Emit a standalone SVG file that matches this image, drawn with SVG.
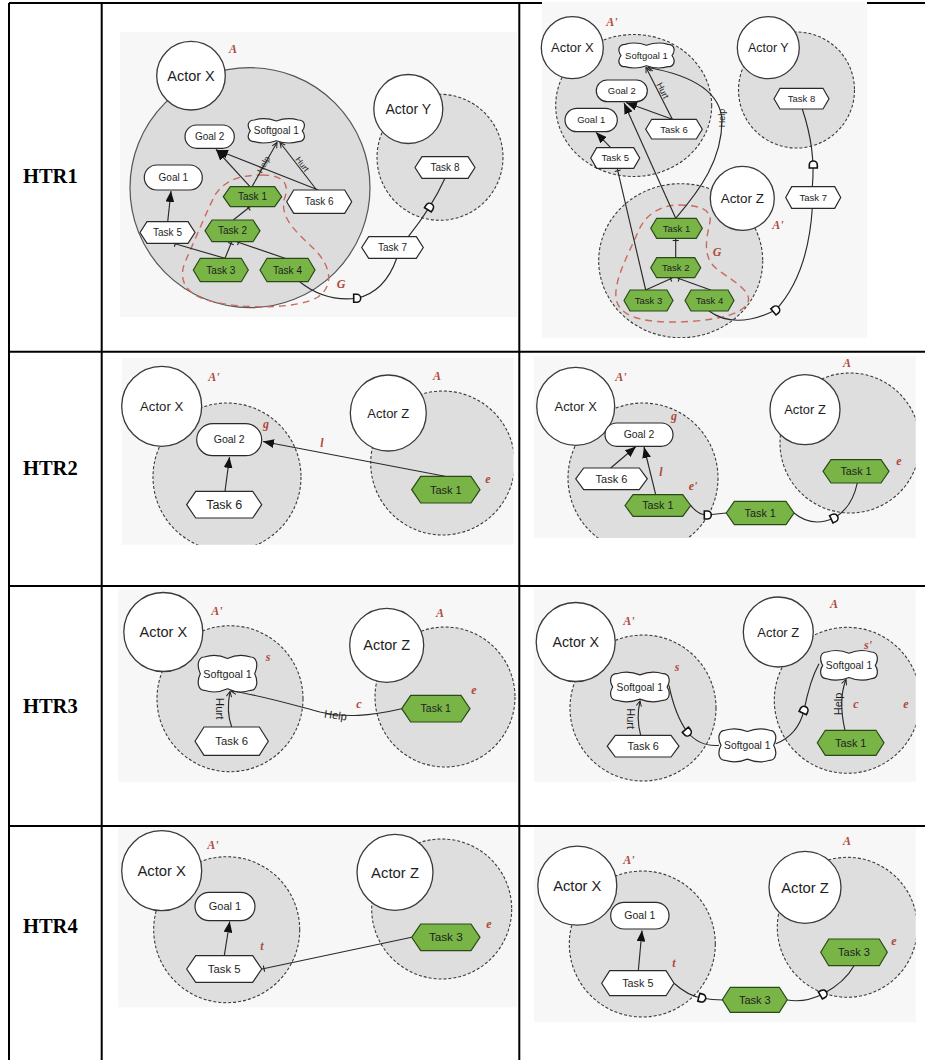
<svg xmlns="http://www.w3.org/2000/svg" xmlns:xlink="http://www.w3.org/1999/xlink" width="925" height="1060" viewBox="0 0 925 1060">
<style>
.bg{fill:#f7f7f7}
.bd{fill:#dedede;stroke:#3a3a3a;stroke-width:1.1;stroke-dasharray:3 2}
.bs{fill:#dcdcdc;stroke:#555;stroke-width:1.2}
.ac{fill:#fff;stroke:#3a3a3a;stroke-width:1.3}
.nw{fill:#fff;stroke:#2a2a2a;stroke-width:1.2}
.ng{fill:#78b446;stroke:#2b4a17;stroke-width:1.2}
.ln{fill:none;stroke:#2a2a2a;stroke-width:1.15}
.gb{fill:none;stroke:#c96a5e;stroke-width:1.4;stroke-dasharray:7 5}
.t{font-family:"Liberation Sans",Arial,sans-serif;fill:#1e1e1e;text-anchor:middle}
.r{font-family:"Liberation Serif","Times New Roman",serif;font-style:italic;font-weight:bold;fill:#b04a3c;font-size:12px;text-anchor:middle}
.h{font-family:"Liberation Serif","Times New Roman",serif;font-weight:bold;font-size:20.5px;fill:#000}
.tb{stroke:#000;stroke-width:2;fill:none}
.dp{fill:#fff;stroke:#111;stroke-width:1.6}
</style>
<defs>
<marker id="ah" viewBox="0 0 10 8" refX="10" refY="4" markerWidth="11" markerHeight="8.8" markerUnits="userSpaceOnUse" orient="auto"><path d="M0,0 L10,4 L0,8 z" fill="#111"/></marker>
<marker id="oa" viewBox="0 0 8 8" refX="7" refY="4" markerWidth="7" markerHeight="7" markerUnits="userSpaceOnUse" orient="auto"><path d="M1,1 L7,4 L1,7" fill="none" stroke="#222" stroke-width="1.1"/></marker>
<marker id="tk" viewBox="0 0 8 8" refX="6" refY="4" markerWidth="8" markerHeight="8" markerUnits="userSpaceOnUse" orient="auto"><path d="M4,1 L4,7" fill="none" stroke="#222" stroke-width="1.1"/></marker>
<path id="dsym" d="M-3,-4 L0,-4 A4,4 0 0 1 0,4 L-3,4 Z"/>
<clipPath id="cp2"><rect x="542" y="2" width="325" height="336"/></clipPath>
<clipPath id="cp3"><rect x="121.7" y="358" width="391.6" height="186.7"/></clipPath>
<clipPath id="cp4"><rect x="534" y="356.3" width="381.7" height="181.7"/></clipPath>
<clipPath id="cp6"><rect x="534" y="588.7" width="381.7" height="193.3"/></clipPath>
<clipPath id="cp8"><rect x="534" y="827.3" width="381.7" height="195"/></clipPath>
</defs>
<rect width="925" height="1060" fill="#fff"/>

<g id="table">
<path class="tb" d="M9,3 H925 M9,3 V1060 M101.7,3 V1060 M519.3,3 V1060 M9,351.7 H925 M9,586 H925 M9,826 H925"/>
<text class="h" x="23" y="183">HTR1</text>
<text class="h" x="23" y="475">HTR2</text>
<text class="h" x="23" y="713">HTR3</text>
<text class="h" x="23" y="933">HTR4</text>
</g>

<!-- ===== HTR1 left ===== -->
<g id="c1">
<rect class="bg" x="120" y="32" width="397" height="285"/>
<circle id="c1-bndX" class="bs" cx="250" cy="187.7" r="120"/>
<circle id="c1-bndY" class="bd" cx="440" cy="157.3" r="63"/>
<g id="c1-actorX"><circle class="ac" cx="191" cy="75.7" r="34.3"/><text class="t" x="191" y="80.8" font-size="14.5">Actor X</text></g>
<g id="c1-actorY"><circle class="ac" cx="408.3" cy="109" r="34.5"/><text class="t" x="408.3" y="113.9" font-size="14">Actor Y</text></g>
<path id="c1-G" class="gb" d="M262,175 C285,175 290,185 284,200 C280,220 300,235 315,250 C330,265 335,285 318,297 C300,308 250,310 215,302 C185,296 178,280 185,262 C195,240 205,215 215,195 C225,180 240,175 262,175 Z"/>
<g id="c1-links">
<path class="ln" d="M167.7,221.7 L171,191" marker-end="url(#ah)"/>
<path class="ln" d="M250,186.7 L216,149.5" marker-end="url(#ah)"/>
<path class="ln" d="M318.3,190 L217,150" marker-end="url(#ah)"/>
<path class="ln" d="M252,186.7 L277,142.5" marker-end="url(#oa)"/>
<path class="ln" d="M316.7,190 L280,142.5" marker-end="url(#oa)"/>
<path class="ln" d="M233.3,220 L250,206.7" marker-end="url(#tk)"/>
<path class="ln" d="M225,258.3 L173.3,243.3" marker-end="url(#tk)"/>
<path class="ln" d="M225,258.3 L231.7,241.7" marker-end="url(#tk)"/>
<path class="ln" d="M285,258.3 L236.7,241.7" marker-end="url(#tk)"/>
<path class="ln" d="M300,282 Q325,302 356.7,298.3 Q385,292 396.7,258.3"/>
<path class="ln" d="M408.3,236.7 Q432,207 445,178.3"/>
<use href="#dsym" class="dp" transform="translate(356.7,298.3)"/>
<use href="#dsym" class="dp" transform="translate(429.5,207.2) rotate(-58)"/>
<text class="t" font-size="8.5" transform="translate(266,166) rotate(-61)">Help</text>
<text class="t" font-size="8.5" transform="translate(300,166) rotate(52.6)">Hurt</text>
</g>
<g id="c1-goal2"><rect class="nw" x="185" y="125" width="49.3" height="23.3" rx="11.6"/><text class="t" x="209.7" y="140.2" font-size="10">Goal 2</text></g>
<g id="c1-soft1"><path class="nw" d="M254.3,120 q11,-3 22,1 q11,-4 22,-1 c6,0 8,5.4 4,10.85 c4,5.4 2,10.85 -4,10.85 q-11,3 -22,-1 q-11,4 -22,1 c-6,0 -8,-5.4 -4,-10.85 c-4,-5.4 -2,-10.85 4,-10.85 z"/><text class="t" x="276.3" y="134.3" font-size="10">Softgoal 1</text></g>
<g id="c1-goal1"><rect class="nw" x="144.3" y="165" width="58" height="25" rx="12.5"/><text class="t" x="173.3" y="181" font-size="10">Goal 1</text></g>
<g id="c1-task1"><polygon class="ng" points="223.3,196.7 230.3,186.7 274.7,186.7 281.7,196.7 274.7,206.7 230.3,206.7"/><text class="t" x="252.5" y="200.2" font-size="10">Task 1</text></g>
<g id="c1-task6"><polygon class="nw" points="286.7,201.7 293.7,190 344.7,190 351.7,201.7 344.7,213.3 293.7,213.3"/><text class="t" x="319.2" y="205.2" font-size="10">Task 6</text></g>
<g id="c1-task5"><polygon class="nw" points="140,232.5 147,221.7 188,221.7 195,232.5 188,243.3 147,243.3"/><text class="t" x="167.5" y="236" font-size="10">Task 5</text></g>
<g id="c1-task2"><polygon class="ng" points="205,230.8 212,220 253,220 260,230.8 253,241.7 212,241.7"/><text class="t" x="232.5" y="234.3" font-size="10">Task 2</text></g>
<g id="c1-task3"><polygon class="ng" points="193.3,270 200.3,258.3 241.3,258.3 248.3,270 241.3,281.7 200.3,281.7"/><text class="t" x="220.8" y="273.5" font-size="10">Task 3</text></g>
<g id="c1-task4"><polygon class="ng" points="260,270 267,258.3 308,258.3 315,270 308,281.7 267,281.7"/><text class="t" x="287.5" y="273.5" font-size="10">Task 4</text></g>
<g id="c1-task8"><polygon class="nw" points="415,167.5 422,156.7 468,156.7 475,167.5 468,178.3 422,178.3"/><text class="t" x="445" y="171" font-size="10">Task 8</text></g>
<g id="c1-task7"><polygon class="nw" points="361.7,247.5 368.7,236.7 416.3,236.7 423.3,247.5 416.3,258.3 368.7,258.3"/><text class="t" x="392.5" y="251" font-size="10">Task 7</text></g>
<text class="r" x="233" y="53" font-size="11">A</text>
<text class="r" x="341" y="288">G</text>
</g>

<!-- ===== HTR1 right ===== -->
<g id="c2">
<rect class="bg" x="542" y="2" width="325" height="336"/>
<g clip-path="url(#cp2)">
<ellipse id="c2-bndX" class="bd" cx="633.7" cy="105.5" rx="78" ry="71"/>
<circle id="c2-bndY" class="bd" cx="796.5" cy="90" r="58"/>
<ellipse id="c2-bndZ" class="bd" cx="680.7" cy="260.7" rx="82" ry="77"/>
</g>
<g id="c2-actorX"><circle class="ac" cx="572.3" cy="47.7" r="31"/><text class="t" x="572.3" y="52.2" font-size="13">Actor X</text></g>
<g id="c2-actorY"><circle class="ac" cx="768.3" cy="47.7" r="31"/><text class="t" x="768.3" y="52.1" font-size="12.5">Actor Y</text></g>
<g id="c2-actorZ"><circle class="ac" cx="742.3" cy="198.3" r="32"/><text class="t" x="742.3" y="203" font-size="13.4">Actor Z</text></g>
<path id="c2-G" class="gb" d="M679,205 C700,205 712,210 710,222 C706,240 702,258 718,270 C735,282 752,292 748,302 C742,318 700,322 670,322 C640,322 618,315 616,298 C614,280 628,255 638,232 C645,215 660,205 679,205 Z"/>
<g id="c2-links">
<path class="ln" d="M610.7,147.7 L596,132.3" marker-end="url(#ah)"/>
<path class="ln" d="M672.3,119.3 L626,102.5" marker-end="url(#ah)"/>
<path class="ln" d="M675.7,218.3 L624,103" marker-end="url(#ah)"/>
<path class="ln" d="M672.3,119.3 L646,67.5" marker-end="url(#oa)"/>
<path class="ln" d="M675.7,218.3 C700,190 722,160 722,120 C720,90 690,75 648,67.5" marker-end="url(#oa)"/>
<path class="ln" d="M645.7,290 L617.3,168.8" marker-end="url(#tk)"/>
<path class="ln" d="M675.7,257.7 L675.7,238.5" marker-end="url(#tk)"/>
<path class="ln" d="M645.7,290 L672.3,278" marker-end="url(#tk)"/>
<path class="ln" d="M710.7,290 L677.3,278" marker-end="url(#tk)"/>
<path class="ln" d="M709,311 Q735,330 775.7,310 Q808,275 812.3,208.3"/>
<path class="ln" d="M812.3,186.7 Q816,150 802.3,109"/>
<use href="#dsym" class="dp" transform="translate(775.7,310) rotate(-40)"/>
<use href="#dsym" class="dp" transform="translate(813.3,165) rotate(-90)"/>
<text class="t" font-size="9" transform="translate(660,92) rotate(63)">Hurt</text>
<text class="t" font-size="9" transform="translate(725,118) rotate(-90)">Help</text>
</g>
<g id="c2-soft1"><path class="nw" d="M625,44.3 q10.75,-3 21.5,1 q10.75,-4 21.5,-1 c6,0 8,5.6 4,11.2 c4,5.6 2,11.2 -4,11.2 q-10.75,3 -21.5,-1 q-10.75,4 -21.5,1 c-6,0 -8,-5.6 -4,-11.2 c-4,-5.6 -2,-11.2 4,-11.2 z"/><text class="t" x="646.5" y="58.8" font-size="9.5">Softgoal 1</text></g>
<g id="c2-goal2"><rect class="nw" x="596.3" y="80" width="51" height="21.7" rx="10.8"/><text class="t" x="621.8" y="94.1" font-size="9.5">Goal 2</text></g>
<g id="c2-goal1"><rect class="nw" x="565" y="108.3" width="52.3" height="23.4" rx="11.7"/><text class="t" x="591.2" y="123.3" font-size="9.5">Goal 1</text></g>
<g id="c2-task6"><polygon class="nw" points="645.7,129.2 651.7,119.3 696.3,119.3 702.3,129.2 696.3,139 651.7,139"/><text class="t" x="674" y="132.5" font-size="9.5">Task 6</text></g>
<g id="c2-task5"><polygon class="nw" points="590.7,158 596.7,147.7 633.7,147.7 639.7,158 633.7,168.3 596.7,168.3"/><text class="t" x="615.2" y="161.3" font-size="9.5">Task 5</text></g>
<g id="c2-task8"><polygon class="nw" points="774,98.7 780,88.3 823,88.3 829,98.7 823,109 780,109"/><text class="t" x="801.5" y="102" font-size="9.5">Task 8</text></g>
<g id="c2-task7"><polygon class="nw" points="785.7,197.5 791.7,186.7 834.7,186.7 840.7,197.5 834.7,208.3 791.7,208.3"/><text class="t" x="813.2" y="200.8" font-size="9.5">Task 7</text></g>
<g id="c2-task1"><polygon class="ng" points="650.7,228.3 656.7,218.3 696.3,218.3 702.3,228.3 696.3,238.3 656.7,238.3"/><text class="t" x="676.5" y="231.6" font-size="9.5">Task 1</text></g>
<g id="c2-task2"><polygon class="ng" points="650.7,267.7 656.7,257.7 694.7,257.7 700.7,267.7 694.7,277.7 656.7,277.7"/><text class="t" x="675.7" y="271" font-size="9.5">Task 2</text></g>
<g id="c2-task3"><polygon class="ng" points="624,300.5 630,290 667,290 673,300.5 667,311 630,311"/><text class="t" x="648.5" y="303.8" font-size="9.5">Task 3</text></g>
<g id="c2-task4"><polygon class="ng" points="685,300.5 691,290 728,290 734,300.5 728,311 691,311"/><text class="t" x="709.5" y="303.8" font-size="9.5">Task 4</text></g>
<text class="r" x="612" y="26" font-size="11">A'</text>
<text class="r" x="778" y="229" font-size="11">A'</text>
<text class="r" x="717" y="256">G</text>
</g>

<!-- ===== HTR2 left ===== -->
<g id="c3">
<rect class="bg" x="121.7" y="358" width="391.6" height="186.7"/>
<g clip-path="url(#cp3)">
<circle id="c3-bndX" class="bd" cx="227" cy="477" r="74"/>
<circle id="c3-bndZ" class="bd" cx="442.7" cy="463" r="72"/>
</g>
<g id="c3-actorX"><circle class="ac" cx="161.7" cy="406.3" r="40"/><text class="t" x="161.7" y="410.9" font-size="13.2">Actor X</text></g>
<g id="c3-actorZ"><circle class="ac" cx="388.3" cy="413" r="38"/><text class="t" x="388.3" y="417.5" font-size="13">Actor Z</text></g>
<g id="c3-links">
<path class="ln" d="M225,491.3 L229.5,457" marker-end="url(#ah)"/>
<path class="ln" d="M445,476.3 L263,441.5" marker-end="url(#ah)"/>
</g>
<g id="c3-goal2"><rect class="nw" x="196.7" y="423.7" width="65" height="32" rx="16"/><text class="t" x="229.2" y="443.4" font-size="10.5">Goal 2</text></g>
<g id="c3-task6"><polygon class="nw" points="186.7,504.7 195.7,491.3 252.7,491.3 261.7,504.7 252.7,518 195.7,518"/><text class="t" x="224.2" y="509.1" font-size="12.5">Task 6</text></g>
<g id="c3-task1"><polygon class="ng" points="411.7,489.7 420.7,476.3 471,476.3 480,489.7 471,503 420.7,503"/><text class="t" x="445.8" y="493.5" font-size="11">Task 1</text></g>
<text class="r" x="214" y="381">A'</text>
<text class="r" x="437" y="380">A</text>
<text class="r" x="266" y="428" font-size="11">g</text>
<text class="r" x="322" y="447">l</text>
<text class="r" x="488" y="483" font-size="11">e</text>
</g>

<!-- ===== HTR2 right ===== -->
<g id="c4">
<rect class="bg" x="534" y="356.3" width="381.7" height="181.7"/>
<g clip-path="url(#cp4)">
<circle id="c4-bndX" class="bd" cx="643" cy="478" r="75"/>
<circle id="c4-bndZ" class="bd" cx="850" cy="443" r="70"/>
</g>
<g id="c4-actorX"><circle class="ac" cx="575.7" cy="406.3" r="39"/><text class="t" x="575.7" y="410.8" font-size="12.9">Actor X</text></g>
<g id="c4-actorZ"><circle class="ac" cx="805" cy="409.7" r="35"/><text class="t" x="805" y="414.2" font-size="12.9">Actor Z</text></g>
<g id="c4-links">
<path class="ln" d="M610.7,468 L636,446.5" marker-end="url(#ah)"/>
<path class="ln" d="M655.7,494.7 L644,447" marker-end="url(#ah)"/>
<path class="ln" d="M690.7,505.3 Q698,515 707.3,515 Q716,514 726.3,513"/>
<path class="ln" d="M794,513 Q812,528 834,518 Q852,508 857.3,483"/>
<use href="#dsym" class="dp" transform="translate(707.3,515)"/>
<use href="#dsym" class="dp" transform="translate(834,518) rotate(-25)"/>
</g>
<g id="c4-goal2"><rect class="nw" x="605" y="423" width="68" height="23.3" rx="11.6"/><text class="t" x="639" y="438.3" font-size="10.4">Goal 2</text></g>
<g id="c4-task6"><polygon class="nw" points="575.7,478.8 583.7,468 639.3,468 647.3,478.8 639.3,489.7 583.7,489.7"/><text class="t" x="611.5" y="482.7" font-size="11">Task 6</text></g>
<g id="c4-task1a"><polygon class="ng" points="625,505.5 633,494.7 682.7,494.7 690.7,505.5 682.7,516.3 633,516.3"/><text class="t" x="657.8" y="509.3" font-size="10.8">Task 1</text></g>
<g id="c4-task1b"><polygon class="ng" points="726.3,513 734.3,501.3 786,501.3 794,513 786,524.7 734.3,524.7"/><text class="t" x="760.2" y="516.8" font-size="10.8">Task 1</text></g>
<g id="c4-task1c"><polygon class="ng" points="823,471.3 831,459.7 881,459.7 889,471.3 881,483 831,483"/><text class="t" x="856" y="475.1" font-size="10.8">Task 1</text></g>
<text class="r" x="621" y="381">A'</text>
<text class="r" x="847" y="367">A</text>
<text class="r" x="674" y="420" font-size="11">g</text>
<text class="r" x="661" y="476">l</text>
<text class="r" x="693" y="490" font-size="11">e'</text>
<text class="r" x="899" y="465" font-size="11">e</text>
</g>

<!-- ===== HTR3 left ===== -->
<g id="c5">
<rect class="bg" x="118.3" y="588.7" width="398.4" height="193.3"/>
<circle id="c5-bndX" class="bd" cx="230" cy="698.7" r="73"/>
<circle id="c5-bndZ" class="bd" cx="445" cy="697" r="70"/>
<g id="c5-actorX"><circle class="ac" cx="163.3" cy="632" r="39.5"/><text class="t" x="163.3" y="637.1" font-size="14.5">Actor X</text></g>
<g id="c5-actorZ"><circle class="ac" cx="386.7" cy="645.3" r="37"/><text class="t" x="386.7" y="650.4" font-size="14.5">Actor Z</text></g>
<g id="c5-links">
<path class="ln" d="M231.7,727 Q226,712 230,691.5" marker-end="url(#oa)"/>
<path class="ln" d="M401.7,708.7 C370,716 345,718 320,712 C290,704 260,695 231,691" marker-end="url(#oa)"/>
<text class="t" font-size="11.5" transform="translate(216,708.7) rotate(90)">Hurt</text>
<text class="t" font-size="11" transform="translate(335,719) rotate(8)">Help</text>
</g>
<g id="c5-soft1"><path class="nw" d="M204.3,657 q11.6,-4 23.2,1.5 q11.6,-5.5 23.2,-1.5 c6,0 8,8.3 4,16.65 c4,8.3 2,16.65 -4,16.65 q-11.6,4 -23.2,-1.5 q-11.6,5.5 -23.2,1.5 c-6,0 -8,-8.3 -4,-16.65 c-4,-8.3 -2,-16.65 4,-16.65 z"/><text class="t" x="227.5" y="677.5" font-size="10.8">Softgoal 1</text></g>
<g id="c5-task6"><polygon class="nw" points="195,741.2 204,727 259.3,727 268.3,741.2 259.3,755.3 204,755.3"/><text class="t" x="231.7" y="745.2" font-size="11.3">Task 6</text></g>
<g id="c5-task1"><polygon class="ng" points="401.7,708.7 410.7,695.3 461,695.3 470,708.7 461,722 410.7,722"/><text class="t" x="435.8" y="712.4" font-size="10.5">Task 1</text></g>
<text class="r" x="217" y="615" font-size="13">A'</text>
<text class="r" x="440" y="617" font-size="13">A</text>
<text class="r" x="268" y="661">s</text>
<text class="r" x="359" y="708">c</text>
<text class="r" x="474" y="694" font-size="11">e</text>
</g>

<!-- ===== HTR3 right ===== -->
<g id="c6">
<rect class="bg" x="534" y="588.7" width="381.7" height="193.3"/>
<g clip-path="url(#cp6)">
<circle id="c6-bndX" class="bd" cx="643" cy="708" r="73"/>
<circle id="c6-bndZ" class="bd" cx="847.3" cy="700.3" r="73"/>
</g>
<g id="c6-actorX"><circle class="ac" cx="575.7" cy="642" r="39.5"/><text class="t" x="575.7" y="647" font-size="14.2">Actor X</text></g>
<g id="c6-actorZ"><circle class="ac" cx="778.3" cy="632" r="35"/><text class="t" x="778.3" y="636.5" font-size="13">Actor Z</text></g>
<g id="c6-links">
<path class="ln" d="M640.7,735.3 Q636,718 640,701" marker-end="url(#oa)"/>
<path class="ln" d="M669,685.3 Q675,715 687.3,732 Q700,747 719,745.3"/>
<path class="ln" d="M775.7,743.7 Q798,735 804,710.3 Q810,680 819,663.7"/>
<path class="ln" d="M845,730.3 Q838,700 846,679.5" marker-end="url(#oa)"/>
<use href="#dsym" class="dp" transform="translate(687.3,732) rotate(50)"/>
<use href="#dsym" class="dp" transform="translate(804,710.3) rotate(-65)"/>
<text class="t" font-size="11" transform="translate(627,718.7) rotate(90)">Hurt</text>
<text class="t" font-size="11" transform="translate(842,704) rotate(-90)">Help</text>
</g>
<g id="c6-soft1a"><path class="nw" d="M616.7,673.7 q11.6,-3.5 23.2,1.2 q11.6,-4.7 23.2,-1.2 c6,0 8,6.65 4,13.3 c4,6.65 2,13.3 -4,13.3 q-11.6,3.5 -23.2,-1.2 q-11.6,4.7 -23.2,1.2 c-6,0 -8,-6.65 -4,-13.3 c-4,-6.65 -2,-13.3 4,-13.3 z"/><text class="t" x="639.8" y="690.6" font-size="10.3">Softgoal 1</text></g>
<g id="c6-task6"><polygon class="nw" points="607.3,746.2 615.3,735.3 671,735.3 679,746.2 671,757 615.3,757"/><text class="t" x="643.2" y="750" font-size="10.9">Task 6</text></g>
<g id="c6-soft1b"><path class="nw" d="M725,730.3 q11.2,-3.5 22.35,1.2 q11.2,-4.7 22.35,-1.2 c6,0 8,7.5 4,15 c4,7.5 2,15 -4,15 q-11.2,3.5 -22.35,-1.2 q-11.2,4.7 -22.35,1.2 c-6,0 -8,-7.5 -4,-15 c-4,-7.5 -2,-15 4,-15 z"/><text class="t" x="747.3" y="748.9" font-size="10.3">Softgoal 1</text></g>
<g id="c6-soft1c"><path class="nw" d="M826.7,652 q11.15,-3.5 22.3,1.2 q11.15,-4.7 22.3,-1.2 c6,0 8,6.7 4,13.35 c4,6.7 2,13.35 -4,13.35 q-11.15,3.5 -22.3,-1.2 q-11.15,4.7 -22.3,1.2 c-6,0 -8,-6.7 -4,-13.35 c-4,-6.7 -2,-13.35 4,-13.35 z"/><text class="t" x="849" y="668.9" font-size="10.3">Softgoal 1</text></g>
<g id="c6-task1"><polygon class="ng" points="817.3,742.8 825.3,730.3 876,730.3 884,742.8 876,755.3 825.3,755.3"/><text class="t" x="850.7" y="746.6" font-size="10.9">Task 1</text></g>
<text class="r" x="629" y="625" font-size="13">A'</text>
<text class="r" x="834" y="608" font-size="13">A</text>
<text class="r" x="677" y="671">s</text>
<text class="r" x="868" y="649">s'</text>
<text class="r" x="856" y="708">c</text>
<text class="r" x="906" y="708" font-size="11">e</text>
</g>

<!-- ===== HTR4 left ===== -->
<g id="c7">
<rect class="bg" x="118.3" y="827.3" width="398.4" height="180"/>
<circle id="c7-bndX" class="bd" cx="226.7" cy="929.7" r="73"/>
<circle id="c7-bndZ" class="bd" cx="441.7" cy="909" r="70"/>
<g id="c7-actorX"><circle class="ac" cx="161.7" cy="870.7" r="40"/><text class="t" x="161.7" y="875.9" font-size="14.8">Actor X</text></g>
<g id="c7-actorZ"><circle class="ac" cx="395" cy="872.3" r="38"/><text class="t" x="395" y="877.5" font-size="14.9">Actor Z</text></g>
<g id="c7-links">
<path class="ln" d="M224.3,955.7 L229.7,921.5" marker-end="url(#ah)"/>
<path class="ln" d="M411.7,937.3 L262,969" marker-end="url(#tk)"/>
</g>
<g id="c7-goal1"><rect class="nw" x="195" y="892.3" width="60" height="28.4" rx="14.2"/><text class="t" x="225" y="910.3" font-size="11">Goal 1</text></g>
<g id="c7-task5"><polygon class="nw" points="186.7,969 195.7,955.7 252.7,955.7 261.7,969 252.7,982.3 195.7,982.3"/><text class="t" x="224.2" y="973" font-size="11.3">Task 5</text></g>
<g id="c7-task3"><polygon class="ng" points="411.7,937.3 420.7,924 471,924 480,937.3 471,950.7 420.7,950.7"/><text class="t" x="445.8" y="941.4" font-size="11.7">Task 3</text></g>
<text class="r" x="213" y="849" font-size="13">A'</text>
<text class="r" x="262" y="950">t</text>
<text class="r" x="489" y="928" font-size="11">e</text>
</g>

<!-- ===== HTR4 right ===== -->
<g id="c8">
<rect class="bg" x="534" y="827.3" width="381.7" height="195"/>
<g clip-path="url(#cp8)">
<circle id="c8-bndX" class="bd" cx="642.3" cy="944" r="73"/>
<circle id="c8-bndZ" class="bd" cx="847.3" cy="927.3" r="70"/>
</g>
<g id="c8-actorX"><circle class="ac" cx="577.3" cy="885.7" r="39.5"/><text class="t" x="577.3" y="890.8" font-size="14.7">Actor X</text></g>
<g id="c8-actorZ"><circle class="ac" cx="805" cy="887.3" r="36"/><text class="t" x="805" y="892.5" font-size="14.8">Actor Z</text></g>
<g id="c8-links">
<path class="ln" d="M638.3,970.7 L642,930.5" marker-end="url(#ah)"/>
<path class="ln" d="M674,983.3 Q688,996 701.7,998 Q712,1000 723,1000"/>
<path class="ln" d="M787.3,1000 Q805,1003 823,994 Q845,982 854,965.7"/>
<use href="#dsym" class="dp" transform="translate(701.7,998) rotate(15)"/>
<use href="#dsym" class="dp" transform="translate(823,994) rotate(-30)"/>
</g>
<g id="c8-goal1"><rect class="nw" x="610.7" y="902.3" width="58.3" height="26.7" rx="13.3"/><text class="t" x="639.8" y="919.4" font-size="10.5">Goal 1</text></g>
<g id="c8-task5"><polygon class="nw" points="601.7,983.2 609.7,970.7 666,970.7 674,983.2 666,995.7 609.7,995.7"/><text class="t" x="637.8" y="987" font-size="10.8">Task 5</text></g>
<g id="c8-task3a"><polygon class="ng" points="722.3,999.8 730.3,987.3 779.3,987.3 787.3,999.8 779.3,1012.3 730.3,1012.3"/><text class="t" x="754.8" y="1003.6" font-size="11">Task 3</text></g>
<g id="c8-task3b"><polygon class="ng" points="820.7,952.3 828.7,939 879.3,939 887.3,952.3 879.3,965.7 828.7,965.7"/><text class="t" x="854" y="956.1" font-size="11">Task 3</text></g>
<text class="r" x="629" y="864" font-size="13">A'</text>
<text class="r" x="847" y="845" font-size="13">A</text>
<text class="r" x="674" y="967">t</text>
<text class="r" x="894" y="945" font-size="11">e</text>
</g>
</svg>
